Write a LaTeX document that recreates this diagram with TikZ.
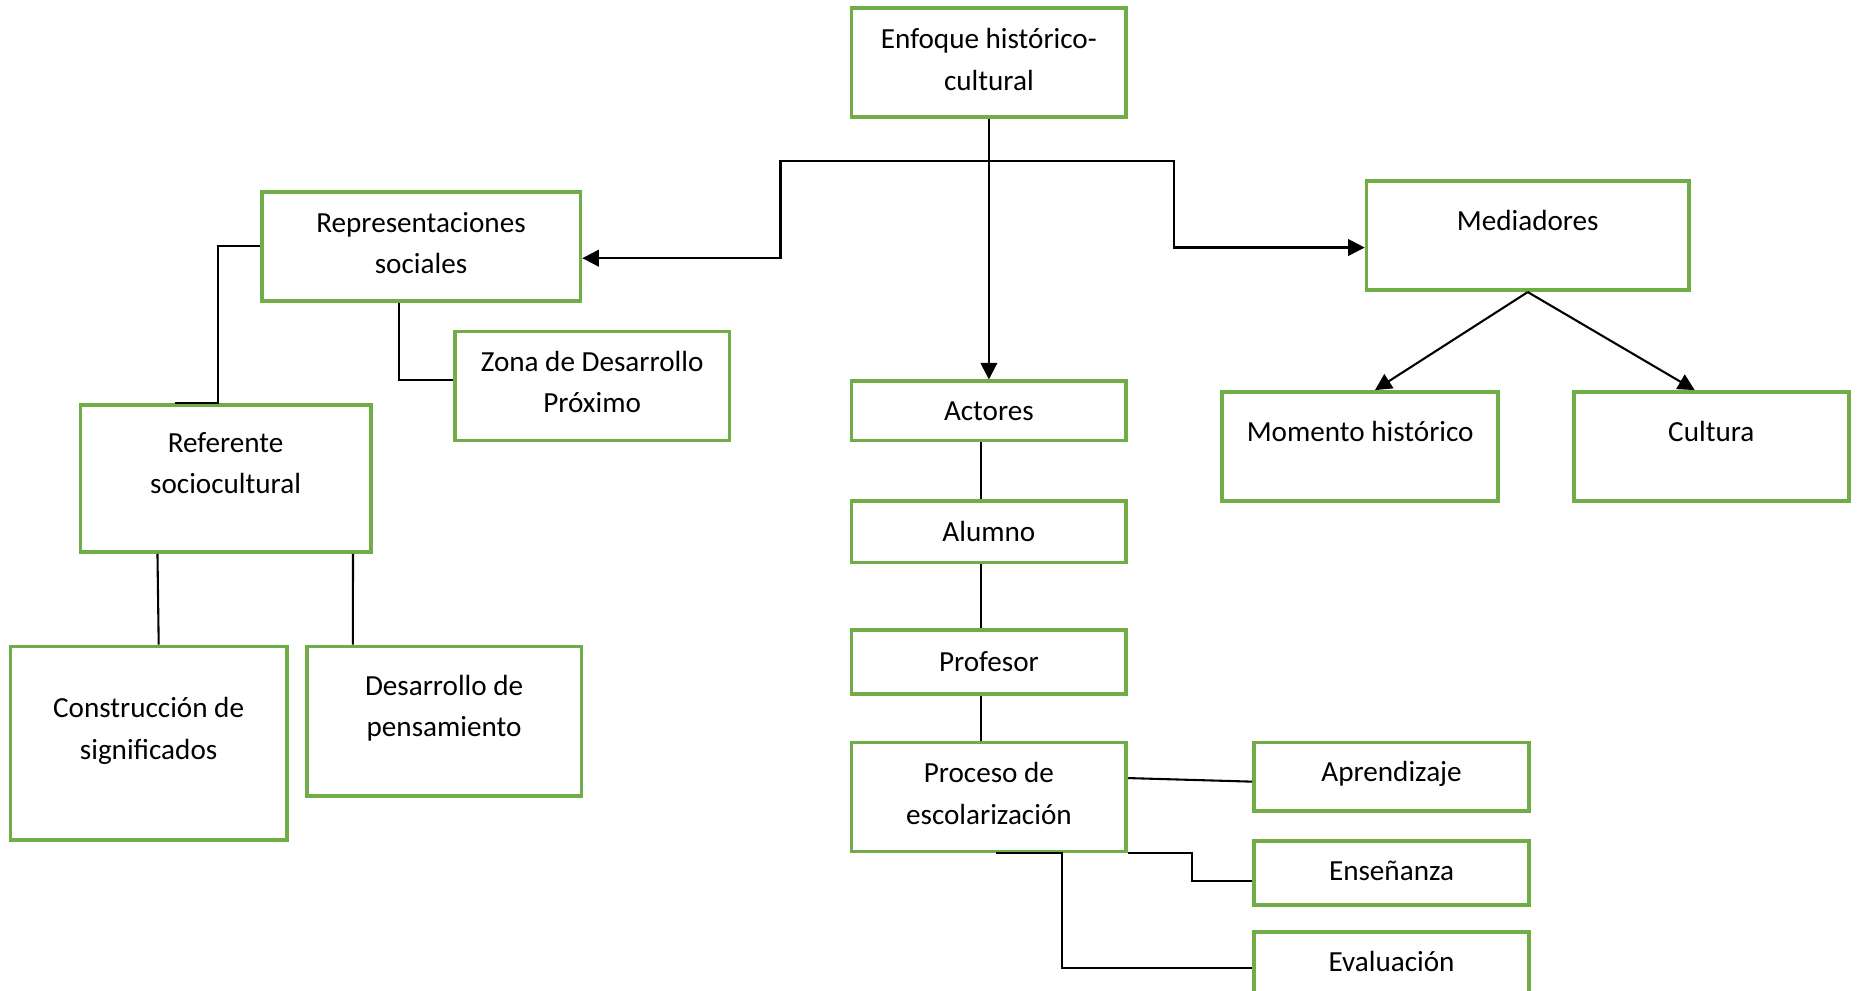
\documentclass[tikz,border=0pt]{standalone}
\usepackage{fontspec}
\setmainfont{Carlito}
\usetikzlibrary{positioning,arrows.meta,calc}
\definecolor{boxgreen}{HTML}{70AD47}
\begin{document}
\begin{tikzpicture}[x=0.01cm, y=-0.01cm,
  box/.style={draw=boxgreen,line width=0.9pt,align=center,inner sep=1pt,font=\fontsize{7}{10}\selectfont},
  link/.style={draw=black,line width=0.5pt},
  arr/.style={link,-{Triangle[length=0.14cm,width=0.14cm]}}]
  \useasboundingbox (0,0) rectangle (1568,836);
  \clip (0,0) rectangle (1568,836);

  % boxes
  \node[box,minimum width=2.32cm,minimum height=0.92cm,text depth=1.7pt] (enf) at (835,53) {Enfoque histórico-\\cultural};
  \node[box,minimum width=2.69cm,minimum height=0.92cm,text depth=1.7pt] (rep) at (355.5,208) {Representaciones\\sociales};
  \node[box,minimum width=2.72cm,minimum height=0.92cm,text depth=7.4pt] (med) at (1290,199) {Mediadores};
  \node[box,minimum width=2.32cm,minimum height=0.92cm,text depth=2pt] (zona) at (500,326) {Zona de Desarrollo\\Próximo};
  \node[box,minimum width=2.45cm,minimum height=1.24cm,text depth=7.4pt] (ref) at (190.5,404) {Referente\\sociocultural};
  \node[box,minimum width=2.33cm,minimum height=1.63cm,text depth=7.2pt] (cons) at (125.5,627.5) {Construcción de\\significados};
  \node[box,minimum width=2.32cm,minimum height=1.26cm,text depth=7.4pt] (des) at (375,609) {Desarrollo de\\pensamiento};
  \node[box,minimum width=2.33cm,minimum height=0.92cm,text depth=7.4pt] (mom) at (1148.5,377) {Momento histórico};
  \node[box,minimum width=2.32cm,minimum height=0.92cm,text depth=7.4pt] (cul) at (1445,377) {Cultura};

  \node[box,minimum width=2.32cm,minimum height=0.50cm] (act) at (835,347) {Actores};
  \node[box,minimum width=2.32cm,minimum height=0.52cm] (alu) at (835,449) {Alumno};
  \node[box,minimum width=2.32cm,minimum height=0.54cm] (prof) at (835,559) {Profesor};
  \node[box,minimum width=2.32cm,minimum height=0.92cm,text depth=1.7pt] (pro) at (835,673) {Proceso de\\escolarización};
  \node[box,minimum width=2.32cm,minimum height=0.58cm,text depth=2.6pt] (apr) at (1175,656) {Aprendizaje};
  \node[box,minimum width=2.32cm,minimum height=0.54cm,text depth=1.2pt] (ens) at (1175,737) {Enseñanza};
  \node[box,minimum width=2.32cm,minimum height=0.54cm,text depth=1.2pt] (eva) at (1175,814) {Evaluación};

  % arrows from the top
  \coordinate (j) at (835,136);
  \coordinate (jl) at (659,136);
  \coordinate (jr) at (991,136);
  \draw[arr] (enf.south) -- (act.north);
  \draw[arr] (j) -- (jl) |- ([yshift=-0.1cm]rep.east);
  \draw[arr] (j) -- (jr) |- ([yshift=-0.1cm]med.west);
  \draw[arr] (med.south) -- ([xshift=0.125cm]mom.north);
  \draw[arr] (med.south) -- ([xshift=-0.14cm]cul.north);

  % left branch
  \draw[link] (rep.west) -| ([xshift=-0.065cm]ref.north) -- ([xshift=-0.425cm]ref.north);
  \draw[link] ([xshift=-0.185cm]rep.south) |- ([yshift=0.05cm]zona.west);
  \draw[link] ([xshift=-0.575cm]ref.south) -- ([xshift=0.085cm]cons.north);
  \draw[link] ([xshift=1.075cm]ref.south) -- ([xshift=-0.77cm]des.north);

  % actors
  \foreach \a/\b in {act/alu,alu/prof,prof/pro}
    \draw[link] ([xshift=-0.07cm]\a.south) -- ([xshift=-0.07cm]\b.north);
  \draw[link] ([yshift=0.16cm]pro.east) -- ([yshift=-0.04cm]apr.west);
  \draw[link] (pro.south east) -- ++(54,0) |- ([yshift=-0.07cm]ens.west);
  \draw[link] ([xshift=0.06cm]pro.south) -- ([xshift=0.62cm]pro.south) |- ([yshift=-0.03cm]eva.west);
\end{tikzpicture}
\end{document}
